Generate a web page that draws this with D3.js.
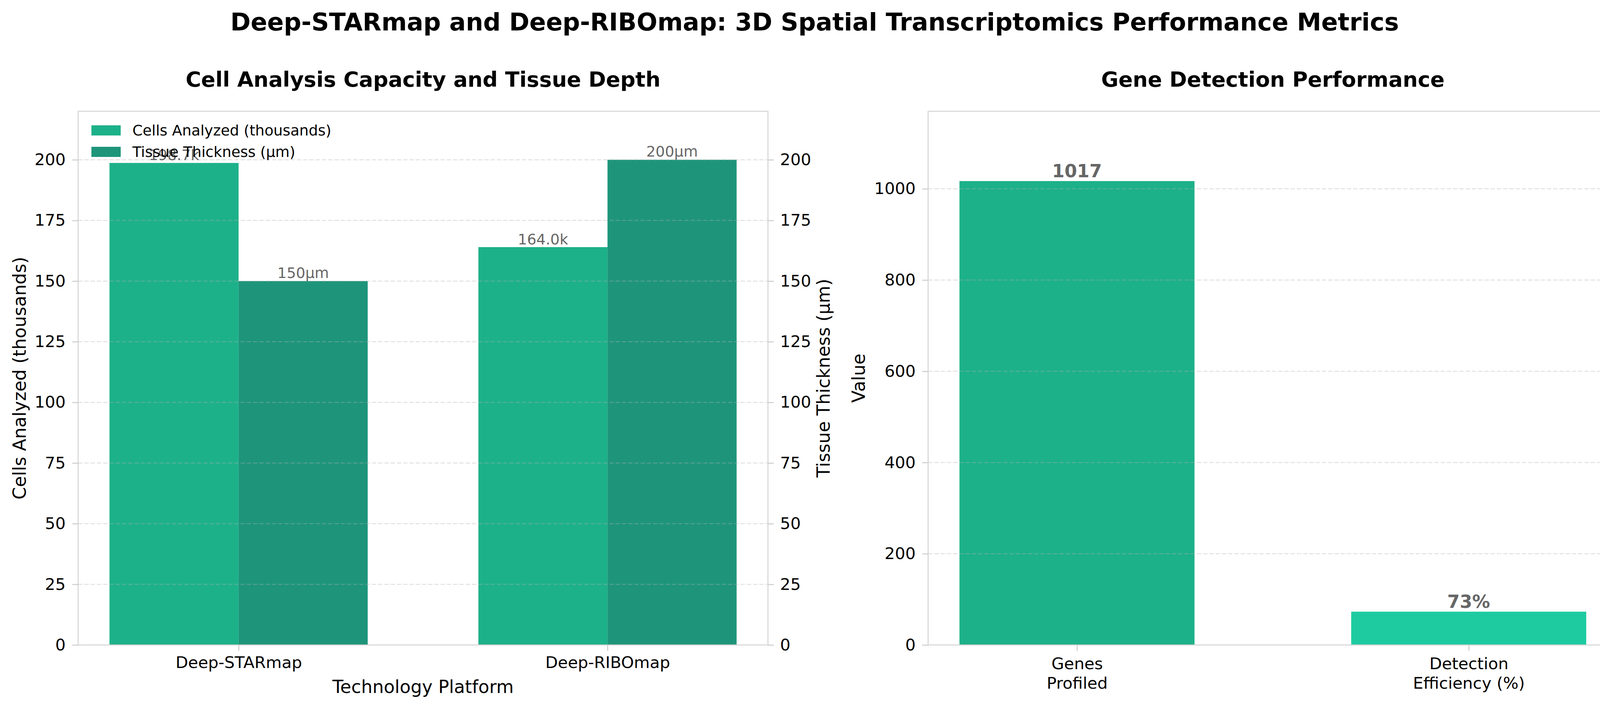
<!DOCTYPE html>
<html>
<head>
<meta charset="utf-8">
<script src="https://cdn.jsdelivr.net/npm/d3@7"></script>
<style>
  body { margin: 0; background: #fff; overflow: hidden; }
  svg { display: block; }
  text { font-family: "DejaVu Sans", sans-serif; }
</style>
</head>
<body>
<div id="chart"></div>
<script>
const platforms = ["Deep-STARmap", "Deep-RIBOmap"];
const cellsAnalyzed = [198.7, 164.0];      // thousands
const tissueThickness = [150, 200];        // µm
const leftTicks = [0, 25, 50, 75, 100, 125, 150, 175, 200];

const metricNames = [["Genes", "Profiled"], ["Detection", "Efficiency (%)"]];
const metricValues = [1017, 73];
const metricLabels = ["1017", "73%"];
const rightTicks = [0, 200, 400, 600, 800, 1000];

const W = 4171, H = 1816;
const cCells = "#1db189", cThick = "#1e957b", cGenes = "#1db189", cDetect = "#1ecba1";
const labelGray = "#666666";

const svg = d3.select("#chart").append("svg")
    .attr("width", W).attr("height", H)
    .style("background", "#fff");

svg.append("text")
    .attr("x", W / 2).attr("y", 78)
    .attr("text-anchor", "middle")
    .attr("font-size", 62.5).attr("font-weight", "bold")
    .text("Deep-STARmap and Deep-RIBOmap: 3D Spatial Transcriptomics Performance Metrics");

// shared helpers
const gridStyle = sel => sel.attr("stroke", "#b0b0b0").attr("stroke-opacity", 0.38)
    .attr("stroke-width", 2.5).attr("stroke-dasharray", "11,5");

function styleAxis(g) {
    g.select(".domain").remove();
    g.selectAll(".tick line").attr("stroke", "#cccccc").attr("stroke-width", 2.5);
    g.selectAll(".tick text").attr("font-size", 41.7).attr("fill", "#000")
        .attr("font-family", "DejaVu Sans, sans-serif");
}

function spines(g, x0, x1, y0, y1) {
    g.append("rect").attr("x", x0).attr("y", y0)
        .attr("width", x1 - x0).attr("height", y1 - y0)
        .attr("fill", "none").attr("stroke", "#d3d3d3").attr("stroke-width", 2.5);
}

// ---------- left panel ----------
const L = { left: 200, right: 1966, top: 285, bottom: 1652 };
const xL = d3.scaleLinear().domain([-0.435, 1.435]).range([L.left, L.right]);
const yL = d3.scaleLinear().domain([0, 220]).range([L.bottom, L.top]);
const yL2 = d3.scaleLinear().domain([0, 220]).range([L.bottom, L.top]);
const bw = 0.35;

const gl = svg.append("g");

gl.selectAll("rect.cells").data(cellsAnalyzed).enter().append("rect")
    .attr("x", (d, i) => xL(i - bw))
    .attr("width", xL(bw) - xL(0))
    .attr("y", d => yL(d)).attr("height", d => yL(0) - yL(d))
    .attr("fill", cCells);

gl.selectAll("rect.thick").data(tissueThickness).enter().append("rect")
    .attr("x", (d, i) => xL(i))
    .attr("width", xL(bw) - xL(0))
    .attr("y", d => yL2(d)).attr("height", d => yL2(0) - yL2(d))
    .attr("fill", cThick);

gl.selectAll("line.grid").data(leftTicks.slice(1)).enter().append("line")
    .attr("x1", L.left).attr("x2", L.right)
    .attr("y1", d => yL(d)).attr("y2", d => yL(d))
    .call(gridStyle);

gl.selectAll("text.cl").data(cellsAnalyzed).enter().append("text")
    .attr("x", (d, i) => xL(i - bw / 2)).attr("y", d => yL(d) - 7)
    .attr("text-anchor", "middle").attr("font-size", 37.5).attr("fill", labelGray)
    .text(d => d.toFixed(1) + "k");

gl.selectAll("text.tl").data(tissueThickness).enter().append("text")
    .attr("x", (d, i) => xL(i + bw / 2)).attr("y", d => yL2(d) - 8)
    .attr("text-anchor", "middle").attr("font-size", 37.5).attr("fill", labelGray)
    .text(d => d + "\u00b5m");

spines(gl, L.left, L.right, L.top, L.bottom);

gl.append("g").attr("transform", `translate(${L.left},0)`)
    .call(d3.axisLeft(yL).tickValues(leftTicks).tickSize(15).tickPadding(17))
    .call(styleAxis);
gl.append("g").attr("transform", `translate(${L.right},0)`)
    .call(d3.axisRight(yL2).tickValues(leftTicks).tickSize(15).tickPadding(16))
    .call(styleAxis);
gl.append("g").attr("transform", `translate(0,${L.bottom})`)
    .call(d3.axisBottom(xL).tickValues([0, 1]).tickFormat(i => platforms[i]).tickSize(15).tickPadding(14))
    .call(styleAxis);

gl.append("text").attr("x", (L.left + L.right) / 2).attr("y", 222)
    .attr("text-anchor", "middle").attr("font-size", 54).attr("font-weight", "bold")
    .text("Cell Analysis Capacity and Tissue Depth");
gl.append("text").attr("x", (L.left + L.right) / 2).attr("y", 1775)
    .attr("text-anchor", "middle").attr("font-size", 45.8)
    .text("Technology Platform");
gl.append("text").attr("transform", `translate(66,${(L.top + L.bottom) / 2}) rotate(-90)`)
    .attr("text-anchor", "middle").attr("font-size", 45.8)
    .text("Cells Analyzed (thousands)");
gl.append("text").attr("transform", `translate(2124,${(L.top + L.bottom) / 2}) rotate(-90)`)
    .attr("text-anchor", "middle").attr("font-size", 45.8)
    .text("Tissue Thickness (\u00b5m)");

// legend
const legendItems = [["Cells Analyzed (thousands)", cCells], ["Tissue Thickness (\u00b5m)", cThick]];
const lg = gl.selectAll("g.leg").data(legendItems).enter().append("g")
    .attr("transform", (d, i) => `translate(234,${321 + i * 55})`);
lg.append("rect").attr("width", 75).attr("height", 26).attr("fill", d => d[1]);
lg.append("text").attr("x", 105).attr("y", 26).attr("font-size", 37.5).text(d => d[0]);

// ---------- right panel ----------
const R = { left: 2376, right: 4141, top: 285, bottom: 1652 };
const xR = d3.scaleLinear().domain([-0.38, 1.38]).range([R.left, R.right]);
const yR = d3.scaleLinear().domain([0, 1170]).range([R.bottom, R.top]);
const bw2 = 0.6;
const gr = svg.append("g");

gr.selectAll("rect.m").data(metricValues).enter().append("rect")
    .attr("x", (d, i) => xR(i - bw2 / 2))
    .attr("width", xR(bw2) - xR(0))
    .attr("y", d => yR(d)).attr("height", d => yR(0) - yR(d))
    .attr("fill", (d, i) => i === 0 ? cGenes : cDetect);

gr.selectAll("line.grid").data(rightTicks.slice(1)).enter().append("line")
    .attr("x1", R.left).attr("x2", R.right)
    .attr("y1", d => yR(d)).attr("y2", d => yR(d))
    .call(gridStyle);

gr.selectAll("text.vl").data(metricValues).enter().append("text")
    .attr("x", (d, i) => xR(i)).attr("y", d => yR(d) - 10)
    .attr("text-anchor", "middle").attr("font-size", 45.8).attr("font-weight", "bold")
    .attr("fill", labelGray)
    .text((d, i) => metricLabels[i]);

spines(gr, R.left, R.right, R.top, R.bottom);

gr.append("g").attr("transform", `translate(${R.left},0)`)
    .call(d3.axisLeft(yR).tickValues(rightTicks).tickFormat(d3.format("d")).tickSize(15).tickPadding(17))
    .call(styleAxis);
const xa = gr.append("g").attr("transform", `translate(0,${R.bottom})`)
    .call(d3.axisBottom(xR).tickValues([0, 1]).tickFormat("").tickSize(15))
    .call(styleAxis);
xa.selectAll(".tick").append("text")
    .attr("text-anchor", "middle").attr("font-size", 41.7).attr("fill", "#000")
    .selectAll("tspan").data((d) => metricNames[d]).enter().append("tspan")
    .attr("x", 0).attr("y", (d, i) => 62 + i * 50)
    .text(d => d);

gr.append("text").attr("x", (R.left + R.right) / 2).attr("y", 222)
    .attr("text-anchor", "middle").attr("font-size", 54).attr("font-weight", "bold")
    .text("Gene Detection Performance");
gr.append("text").attr("transform", `translate(2214,${(R.top + R.bottom) / 2}) rotate(-90)`)
    .attr("text-anchor", "middle").attr("font-size", 45.8)
    .text("Value");
</script>
</body>
</html>
